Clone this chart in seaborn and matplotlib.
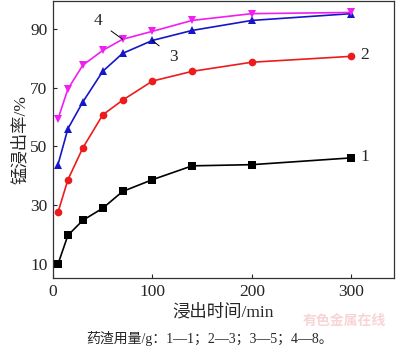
import pandas as pd
import seaborn as sns
from matplotlib import pyplot as plt

# leaching time, min
times = [5, 15, 30, 50, 70, 100, 140, 200, 300]
# Mn leaching rate, % (residue dosage 1, 3, 5, 8 g)
rate_1 = [10.0, 19.8, 24.9, 29.0, 34.7, 38.7, 43.4, 43.8, 46.1]
rate_2 = [27.6, 38.7, 49.5, 60.7, 65.7, 72.2, 75.5, 78.6, 80.6]
rate_3 = [43.8, 56.0, 65.1, 75.5, 81.6, 86.0, 89.4, 92.8, 95.1]
rate_4 = [59.3, 69.5, 77.6, 82.6, 86.4, 89.1, 92.8, 95.1, 95.5]
series_names = ['1', '2', '3', '4']

xticks = [0, 100, 200, 300]
yticks = [10, 30, 50, 70, 90]


def main():
    sns.set_style('ticks')
    plt.rcParams['font.family'] = ['Liberation Serif', 'Noto Sans CJK SC']
    plt.rcParams['axes.unicode_minus'] = False

    rows = []
    for name, vals in zip(series_names, [rate_1, rate_2, rate_3, rate_4]):
        for t, v in zip(times, vals):
            rows.append({'time': t, 'rate': v, 'series': name})
    df = pd.DataFrame(rows)

    palette = {'1': '#000000', '2': '#ec1c1c', '3': '#1616c8', '4': '#f01ef0'}
    markers = {'1': 's', '2': 'o', '3': '^', '4': 'v'}

    fig = plt.figure(figsize=(4.0, 3.51), dpi=100)
    ax = fig.add_axes([0.1325, 0.208, 0.8525, 0.79])
    sns.lineplot(data=df, x='time', y='rate', hue='series', style='series',
                 palette=palette, markers=markers, dashes=False,
                 markersize=5.5, markeredgewidth=0, linewidth=1.2,
                 legend=False, ax=ax)

    ax.set_xlim(0, 343)
    ax.set_ylim(5.3, 99.5)
    ax.set_xticks(xticks)
    ax.set_yticks(yticks)
    ax.tick_params(direction='in', length=3, width=0.8, labelsize=12.5, pad=4)
    for s in ax.spines.values():
        s.set_linewidth(0.9)
        s.set_color('#333333')

    ax.set_xlabel('浸出时间/min', fontsize=12.5, labelpad=3)
    ax.set_ylabel('锰浸出率/%', fontsize=12.5, labelpad=1)

    # curve labels
    ax.text(309, 81.0, '2', fontsize=12.5, va='center')
    ax.text(309, 46.5, '1', fontsize=12.5, va='center')
    ax.annotate('4', xy=(70, 86.4), xytext=(45, 92.5), fontsize=12.5,
                ha='center', va='center',
                arrowprops=dict(arrowstyle='-', color='black', lw=0.7,
                                shrinkA=5, shrinkB=0))
    ax.annotate('3', xy=(100, 86.0), xytext=(121, 80.3), fontsize=12.5,
                ha='center', va='center',
                arrowprops=dict(arrowstyle='-', color='black', lw=0.7,
                                shrinkA=6, shrinkB=0))

    fig.text(0.525, 0.036, '药渣用量/g：1—1；2—3；3—5；4—8。', fontsize=10,
             ha='center', va='center')
    fig.text(0.86, 0.083, '有色金属在线', fontsize=10, fontweight='bold',
             color='#f4b8b8', alpha=0.6, ha='center', va='center')

    fig.savefig('out.png', dpi=100)


if __name__ == '__main__':
    main()
